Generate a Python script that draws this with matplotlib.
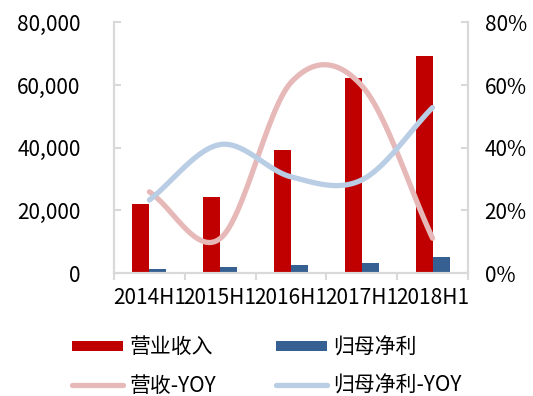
import numpy as np
import matplotlib
matplotlib.use('Agg')
from matplotlib import pyplot as plt
from matplotlib.lines import Line2D
from matplotlib.patches import Patch

plt.rcParams['font.family'] = ['Noto Sans CJK SC', 'DejaVu Sans']

# 半年度数据
periods = ['2014H1', '2015H1', '2016H1', '2017H1', '2018H1']
revenue = [22100, 24400, 39200, 62300, 69400]          # 营业收入
net_profit = [1400, 2000, 2700, 3200, 5200]           # 归母净利
revenue_yoy = [25.9, 11.0, 60.8, 59.8, 11.1]          # 营收-YOY (%)
profit_yoy = [23.3, 41.0, 30.7, 29.7, 52.8]           # 归母净利-YOY (%)

RED = '#C00000'
BLUE = '#376092'
RED_L = '#E6B9B8'
BLUE_L = '#B9CDE5'
GRID = '#D9D9D9'


def smooth(y, n=30):
    # Catmull-Rom 平滑曲线（与 Excel 平滑线一致），经过每个数据点
    y = np.asarray(y, dtype=float)
    p = np.concatenate([[2 * y[0] - y[1]], y, [2 * y[-1] - y[-2]]])
    xs, ys = [], []
    for i in range(len(y) - 1):
        p0, p1, p2, p3 = p[i], p[i + 1], p[i + 2], p[i + 3]
        t = np.linspace(0, 1, n, endpoint=(i == len(y) - 2))
        m1 = (p2 - p0) / 2
        m2 = (p3 - p1) / 2
        h00 = 2 * t**3 - 3 * t**2 + 1
        h10 = t**3 - 2 * t**2 + t
        h01 = -2 * t**3 + 3 * t**2
        h11 = t**3 - t**2
        xs.append(i + t)
        ys.append(h00 * p1 + h10 * m1 + h01 * p2 + h11 * m2)
    return np.concatenate(xs), np.concatenate(ys)


fig = plt.figure(figsize=(5.33, 3.96), dpi=100)
ax1 = fig.add_axes([0.2139, 0.3106, 0.664, 0.633])
ax2 = ax1.twinx()

x = np.arange(len(periods))
w = 0.24
ax1.bar(x - w / 2, revenue, w, color=RED)
ax1.bar(x + w / 2, net_profit, w, color=BLUE)

sx, sy = smooth(revenue_yoy)
ax2.plot(sx, sy, color=RED_L, lw=3.8, solid_capstyle='round')
sx, sy = smooth(profit_yoy)
ax2.plot(sx, sy, color=BLUE_L, lw=3.8, solid_capstyle='round')

ax1.set_xlim(-0.5, len(periods) - 0.5)
ax1.set_ylim(0, 80000)
ax2.set_ylim(0, 80)

ax1.set_yticks([0, 20000, 40000, 60000, 80000])
ax1.set_yticklabels(['{:,}'.format(v) for v in [0, 20000, 40000, 60000, 80000]])
ax2.set_yticks([0, 20, 40, 60, 80])
ax2.set_yticklabels(['{}%'.format(v) for v in [0, 20, 40, 60, 80]])

# 类别刻度线在类别之间
ax1.set_xticks(np.arange(len(periods) + 1) - 0.5, minor=False)
ax1.set_xticklabels([])
ax1.set_xticks(x, minor=True)
ax1.set_xticklabels(periods, minor=True)
ax1.tick_params(axis='x', which='major', direction='out', length=5, width=1.5, color=GRID)
ax1.tick_params(axis='x', which='minor', length=0, pad=10, labelsize=15)

ax1.tick_params(axis='y', direction='in', length=5, width=1.5, color=GRID, pad=24, labelsize=15)
ax2.tick_params(axis='y', direction='in', length=5, width=1.5, color=GRID, pad=12, labelsize=15)

for ax in (ax1, ax2):
    ax.spines['top'].set_visible(False)
    for s in ('left', 'right', 'bottom'):
        ax.spines[s].set_color(GRID)
        ax.spines[s].set_linewidth(1.5)

# 图例按列排列：左列营收，右列归母净利
handles = [
    Patch(facecolor=RED, label='营业收入'),
    Line2D([], [], color=RED_L, lw=3.8, solid_capstyle='round', label='营收-YOY'),
    Patch(facecolor=BLUE, label='归母净利'),
    Line2D([], [], color=BLUE_L, lw=3.8, solid_capstyle='round', label='归母净利-YOY'),
]
fig.legend(handles=handles, ncol=2, loc='upper left', bbox_to_anchor=(0.116, 0.177),
           frameon=False, fontsize=15, handlelength=2.45, handleheight=0.4,
           columnspacing=2.85, labelspacing=0.78, handletextpad=0.3, borderpad=0)

fig.savefig('out.png', dpi=100)
